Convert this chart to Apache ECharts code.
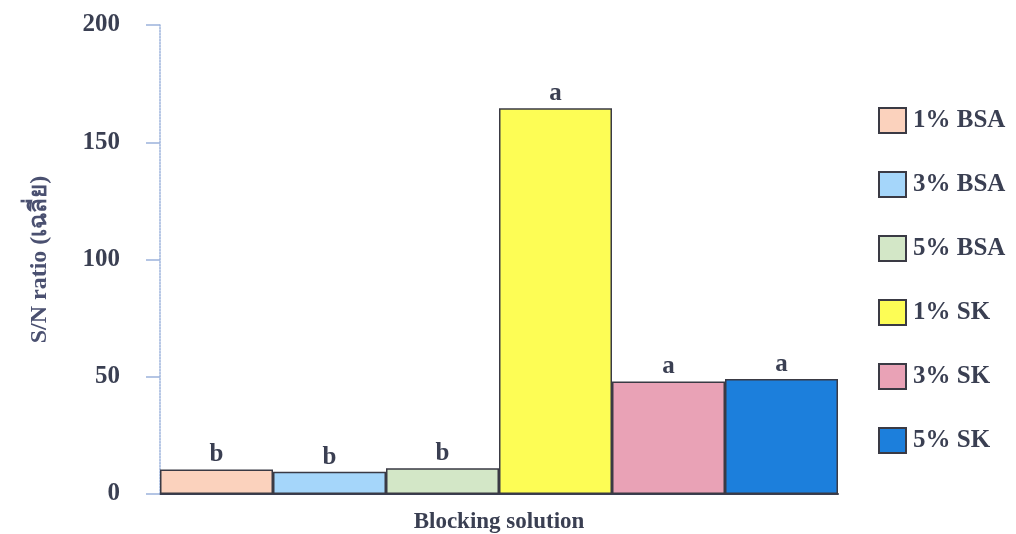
<!DOCTYPE html>
<html><head><meta charset="utf-8">
<script src="https://cdn.jsdelivr.net/npm/echarts@6/dist/echarts.min.js"></script>
<style>html,body{margin:0;padding:0;background:#fff}#c{width:1016px;height:534px}</style>
</head><body><div id="c"></div>
<script>
const seriesNames = ['1% BSA','3% BSA','5% BSA','1% SK','3% SK','5% SK'];
const seriesValues = [10.5, 9.5, 11, 164.5, 48, 49];
const letters = ['b','b','b','a','a','a'];
const colors = ['#fbd2bd','#a5d6fa','#d3e7c7','#fdfd55','#e9a2b6','#1c7fdc'];
const yTicks = [0, 50, 100, 150, 200];

const font = 'Liberation Serif, Times New Roman, serif';
const chart = echarts.init(document.getElementById('c'));
chart.setOption({
  animation: false,
  backgroundColor: '#fff',
  grid: {left: 160, right: 178, top: 25, bottom: 40, outerBoundsMode: 'none', containLabel: false},
  legend: {
    orient: 'vertical', left: 873, top: 102,
    itemWidth: 27, itemHeight: 25, itemGap: 37,
    icon: 'rect',
    textStyle: {fontFamily: font, fontWeight: 'bold', fontSize: 25, color: '#3a3f52', padding: [0,0,0,2]},
    data: seriesNames
  },
  xAxis: {
    type: 'category', data: [''],
    name: 'Blocking solution', nameLocation: 'middle', nameGap: 17,
    nameTextStyle: {fontFamily: font, fontWeight: 'bold', fontSize: 23, color: '#3a3f52'},
    axisLine: {lineStyle: {color: '#3a3f52', width: 2}},
    axisTick: {show: false}, axisLabel: {show: false}
  },
  yAxis: {
    type: 'value', min: 0, max: 200, interval: 50,
    name: 'S/N ratio (เฉลี่ย)', nameLocation: 'middle', nameGap: 108,
    nameTextStyle: {fontFamily: font, fontWeight: 'bold', fontSize: 24, color: '#4a5070'},
    axisLine: {show: true, lineStyle: {color: '#9cb3dc', type: 'dotted', width: 1.5}},
    axisTick: {show: true, length: 14, lineStyle: {color: '#9cb3dc', width: 1.5}},
    splitLine: {show: false},
    axisLabel: {fontFamily: font, fontWeight: 'bold', fontSize: 25, color: '#3a3f52', margin: 40,
      formatter: v => yTicks.includes(v) ? String(v) : ''}
  },
  series: seriesNames.map((n, i) => ({
    name: n, type: 'bar', barGap: '0%', barCategoryGap: '0%',
    data: [seriesValues[i]],
    itemStyle: {color: colors[i], borderColor: '#3a3a44', borderWidth: 1.5},
    label: {show: true, position: 'top', formatter: letters[i], distance: 2,
      fontFamily: font, fontWeight: 'bold', fontSize: 25, color: '#3a3f52'}
  }))
});
</script></body></html>
